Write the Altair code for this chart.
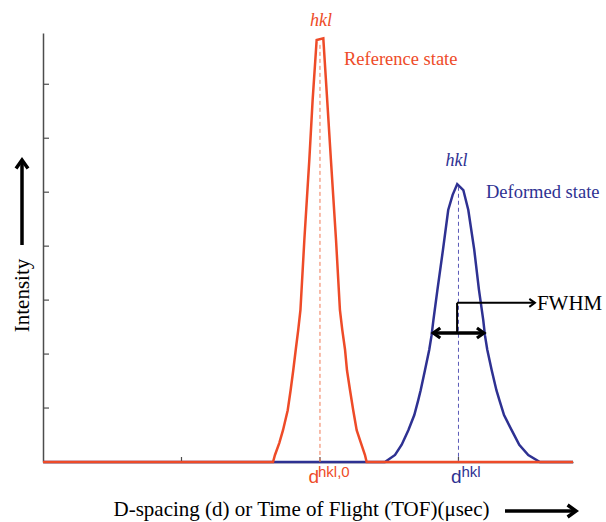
import altair as alt
import pandas as pd

RED = "#ee4b28"
BLUE = "#2e3192"
RED_DASH = "#f07a55"
BLUE_DASH = "#5a5ab8"
AXIS = "#4d4d4d"
SERIF = "Liberation Serif"
SANS = "Liberation Sans"

# ---- data ----
red_x = [0.0, 1.661, 1.675, 1.706, 1.733, 1.767, 1.788, 1.807, 1.825, 1.843, 1.859, 1.887, 1.923, 1.947, 1.976,
         2.024, 2.052, 2.079, 2.116, 2.144, 2.161, 2.181, 2.195, 2.217, 2.240, 2.265, 2.296, 2.325, 2.337, 3.827]
red_y = [0, 0, 0.13, 0.35, 0.59, 0.96, 1.33, 1.70, 2.08, 2.45, 2.82, 4.11, 5.60, 6.71, 7.82,
         7.85, 6.71, 5.60, 4.11, 2.82, 2.45, 2.08, 1.70, 1.33, 0.96, 0.59, 0.35, 0.13, 0, 0]

blue_x = [0.0, 2.469, 2.542, 2.590, 2.638, 2.681, 2.710, 2.727, 2.758, 2.789, 2.806, 2.819, 2.848, 2.888, 2.926,
          2.958, 2.991, 3.035, 3.071, 3.114, 3.148, 3.179, 3.191, 3.208, 3.240, 3.274, 3.295, 3.329, 3.384,
          3.439, 3.504, 3.588, 3.827]
blue_y = [0, 0, 0.13, 0.32, 0.59, 0.87, 1.15, 1.33, 1.70, 2.08, 2.35, 2.63, 3.19, 3.93, 4.67,
          4.95, 5.15, 5.04, 4.67, 3.93, 3.19, 2.63, 2.35, 2.08, 1.70, 1.33, 1.15, 0.87, 0.59,
          0.32, 0.13, 0, 0]

y_ticks = [1, 2, 3, 4, 5, 6, 7]
x_ticks = [1, 2, 3]

peak_pos = [2.0, 3.0]          # d_hkl,0 and d_hkl
peak_top = [7.85, 5.15]
dash_top = [7.73, 5.10]
state_labels = ["Reference state", "Deformed state"]
d_sup = ["hkl,0", "hkl"]
hkl_text = "hkl"

fwhm_level = 2.39
fwhm_left = 2.818
fwhm_right = 3.184
leader_x = 2.99
leader_top = 2.95
leader_end = 3.552
fwhm_label = "FWHM"

x_title = "D-spacing (d) or Time of Flight (TOF)(μsec)"
y_title = "Intensity"

X_MAX = 3.827
Y_MAX = 7.95

xs = alt.Scale(domain=[0, X_MAX], nice=False, zero=False)
ys = alt.Scale(domain=[0, Y_MAX], nice=False, zero=False)

x_axis = alt.Axis(title=x_title, labels=False, ticks=False, grid=False, domainColor=AXIS, domainWidth=1.5,
                  titleFont=SERIF, titleFontSize=21, titleFontWeight="normal", titleColor="black",
                  titleX=258, titleY=53, titleAlign="center", titleBaseline="alphabetic", zindex=0)
y_axis = alt.Axis(title=y_title, labels=False, ticks=False, grid=False, domainColor=AXIS, domainWidth=1.5,
                  titleFont=SERIF, titleFontSize=21, titleFontWeight="normal", titleColor="black",
                  titleAngle=270, titleX=-15, titleY=262, titleAlign="center", titleBaseline="alphabetic",
                  zindex=0)


def X(f="x"):
    return alt.X(f"{f}:Q", scale=xs, axis=x_axis)


def Y(f="y"):
    return alt.Y(f"{f}:Q", scale=ys, axis=y_axis)


CHEV = "M-1.4,-1L0,0L-1.4,1"

red_df = pd.DataFrame({"x": red_x, "y": red_y})
blue_df = pd.DataFrame({"x": blue_x, "y": blue_y})
one = alt.Data(values=[{}])

blue_line = alt.Chart(blue_df).mark_line(color=BLUE, strokeWidth=2.5).encode(x=X(), y=Y())
red_line = alt.Chart(red_df).mark_line(color=RED, strokeWidth=2.5).encode(x=X(), y=Y())

ytick = alt.Chart(pd.DataFrame({"y": y_ticks})).mark_rule(color=AXIS, strokeWidth=1.2).encode(
    y=Y(), x=alt.value(0), x2=alt.value(6))
xtick = alt.Chart(pd.DataFrame({"x": x_ticks})).mark_rule(color=AXIS, strokeWidth=1.2).encode(
    x=X(), y=alt.value(429), y2=alt.value(424))

dash_df = pd.DataFrame({"x": peak_pos, "y": dash_top, "y0": [0, 0], "c": [RED_DASH, BLUE_DASH]})
dashes = alt.Chart(dash_df).mark_rule(strokeDash=[4, 3], strokeWidth=1).encode(
    x=X(), y=Y(), y2=alt.Y2("y0:Q"), color=alt.Color("c:N", scale=None))

red_pk = pd.DataFrame({"x": [peak_pos[0]], "y": [peak_top[0]], "s": [state_labels[0]],
                       "h": [hkl_text], "sup": [d_sup[0]], "z": [0]})
blue_pk = pd.DataFrame({"x": [peak_pos[1]], "y": [peak_top[1]], "s": [state_labels[1]],
                        "h": [hkl_text], "sup": [d_sup[1]], "z": [0]})

red_hkl = alt.Chart(red_pk).mark_text(font=SERIF, fontStyle="italic", fontSize=18, color=RED,
                                      align="center", baseline="alphabetic", dx=1, dy=-12).encode(
    x=X(), y=Y(), text="h:N")
blue_hkl = alt.Chart(blue_pk).mark_text(font=SERIF, fontStyle="italic", fontSize=18, color=BLUE,
                                        align="center", baseline="alphabetic", dx=-2, dy=-18).encode(
    x=X(), y=Y(), text="h:N")
red_state = alt.Chart(red_pk).mark_text(font=SERIF, fontSize=18.5, color=RED, align="left",
                                        baseline="alphabetic", dx=24, dy=27).encode(x=X(), y=Y(), text="s:N")
blue_state = alt.Chart(blue_pk).mark_text(font=SERIF, fontSize=18.5, color=BLUE, align="left",
                                          baseline="alphabetic", dx=27.5, dy=14).encode(x=X(), y=Y(), text="s:N")

red_d = alt.Chart(red_pk).mark_text(font=SANS, fontSize=19, color=RED, align="right",
                                    baseline="alphabetic", dx=-1, dy=21).encode(
    x=X(), y=Y("z"), text=alt.value("d"))
red_sup = alt.Chart(red_pk).mark_text(font=SANS, fontSize=15, color=RED, align="left",
                                      baseline="alphabetic", dx=-2, dy=15).encode(
    x=X(), y=Y("z"), text="sup:N")
blue_d = alt.Chart(blue_pk).mark_text(font=SANS, fontSize=19, color=BLUE, align="right",
                                      baseline="alphabetic", dx=3, dy=21).encode(
    x=X(), y=Y("z"), text=alt.value("d"))
blue_sup = alt.Chart(blue_pk).mark_text(font=SANS, fontSize=15, color=BLUE, align="left",
                                        baseline="alphabetic", dx=3, dy=15).encode(
    x=X(), y=Y("z"), text="sup:N")

# FWHM double arrow
fw_df = pd.DataFrame({"x": [fwhm_left], "x2": [fwhm_right], "y": [fwhm_level]})
fw_shaft = alt.Chart(fw_df).mark_rule(color="black", strokeWidth=3.5).encode(
    x=X(), x2=alt.X2("x2:Q"), y=Y())
fw_heads = alt.Chart(pd.DataFrame({"x": [fwhm_left, fwhm_right], "y": [fwhm_level, fwhm_level],
                                   "a": [180, 0]})).mark_point(
    shape=CHEV, size=100, filled=False, color="black", strokeWidth=3.2, opacity=1, strokeJoin="miter").encode(
    x=X(), y=Y(), angle=alt.Angle("a:Q", scale=None))

lead_v = alt.Chart(pd.DataFrame({"x": [leader_x], "y": [fwhm_level], "y2": [leader_top]})).mark_rule(
    color="black", strokeWidth=2).encode(x=X(), y=Y(), y2=alt.Y2("y2:Q"))
lead_h = alt.Chart(pd.DataFrame({"x": [leader_x], "x2": [leader_end], "y": [leader_top]})).mark_rule(
    color="black", strokeWidth=2).encode(x=X(), x2=alt.X2("x2:Q"), y=Y())
lead_head = alt.Chart(pd.DataFrame({"x": [leader_end], "y": [leader_top]})).mark_point(
    shape=CHEV, size=64, filled=False, color="black", strokeWidth=2, opacity=1).encode(x=X(), y=Y())
fw_text = alt.Chart(pd.DataFrame({"x": [leader_end], "y": [leader_top], "t": [fwhm_label]})).mark_text(
    font=SERIF, fontSize=21, color="black", align="left", baseline="alphabetic", dx=2, dy=7).encode(
    x=X(), y=Y(), text="t:N")

# axis-title arrows (outside the plot)
xa_shaft = alt.Chart(one).mark_rule(color="black", strokeWidth=3.5).encode(
    x=alt.value(462), x2=alt.value(531), y=alt.value(478))
xa_head = alt.Chart(one).mark_point(shape=CHEV, size=144, filled=False, color="black",
                                    strokeWidth=3.5, opacity=1).encode(x=alt.value(533), y=alt.value(478))
ya_shaft = alt.Chart(one).mark_rule(color="black", strokeWidth=3.5).encode(
    x=alt.value(-21), y=alt.value(212), y2=alt.value(129))
ya_head = alt.Chart(one).mark_point(shape=CHEV, size=144, filled=False, color="black",
                                    strokeWidth=3.5, opacity=1, angle=270).encode(
    x=alt.value(-21), y=alt.value(127))

chart = alt.layer(
    blue_line, ytick, xtick, dashes, red_line,
    red_hkl, blue_hkl, red_state, blue_state, red_d, red_sup, blue_d, blue_sup,
    fw_shaft, fw_heads, lead_v, lead_h, lead_head, fw_text,
    xa_shaft, xa_head, ya_shaft, ya_head,
).properties(
    width=530, height=429,
    padding={"left": 43, "top": 33, "right": 33, "bottom": 60},
    autosize=alt.AutoSizeParams(type="none"),
    background="white",
).configure_view(stroke=None)

chart.save("out.html", embed_options={"renderer": "svg", "actions": False})
